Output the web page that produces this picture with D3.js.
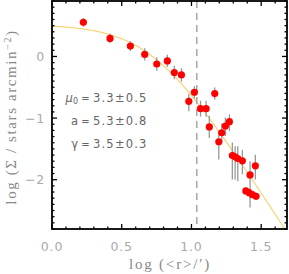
<!DOCTYPE html>
<html><head><meta charset="utf-8">
<script src="https://cdn.jsdelivr.net/npm/d3@7"></script>
<style>body{margin:0;background:#fff}svg{display:block}</style>
</head><body>
<script>
// Data
const logR = [0.225,0.416,0.562,0.665,0.751,0.827,0.877,0.928,0.981,1.021,1.065,1.105,1.167,1.128,1.196,1.217,1.243,1.272,1.293,1.313,1.332,1.365,1.420,1.458,1.390,1.413,1.437,1.463];
const logSigma = [0.554,0.293,0.168,0.033,-0.122,-0.072,-0.261,-0.300,-0.728,-0.581,-0.847,-0.847,-0.603,-1.143,-1.384,-1.238,-1.130,-1.059,-1.607,-1.629,-1.656,-1.694,-1.922,-1.775,-2.182,-2.210,-2.243,-2.270];
const errUp = [0.07,0.08,0.08,0.10,0.11,0.10,0.11,0.11,0.12,0.10,0.13,0.13,0.10,0.18,0.17,0.15,0.14,0.12,0.21,0.17,0.20,0.18,0.22,0.18,0.05,0.05,0.05,0.05];
const errDown = [0.07,0.08,0.08,0.10,0.11,0.10,0.11,0.11,0.16,0.10,0.13,0.13,0.10,0.18,0.29,0.15,0.16,0.15,0.39,0.37,0.37,0.22,0.53,0.22,0.05,0.05,0.05,0.05];
// EFF fit parameters (mu0, a, gamma) with errors
const fitNames = ["μ", "a", "γ"];
const fitValues = [3.3, 5.3, 3.5];
const fitErrors = [0.5, 0.8, 0.3];
const xTicks = [0.0, 0.5, 1.0, 1.5];
const yTicks = [-2, -1, 0];
const rCut = 1.038;

const W = 289, H = 274;
const L = 52, R = 287, T = 1, B = 229;
const svg = d3.select("body").append("svg").attr("width", W).attr("height", H);
const x = d3.scaleLinear().domain([0, 1.685]).range([L, R]);
const y = d3.scaleLinear().domain([-2.8, 0.9]).range([B, T]);

svg.append("defs").append("clipPath").attr("id","clip")
  .append("rect").attr("x",L).attr("y",T).attr("width",R-L).attr("height",B-T);

// fit curve
const [mu0, a, g] = fitValues;
const curveX = d3.range(0, 1.686, 0.005);
svg.append("path").attr("clip-path","url(#clip)")
  .datum(curveX)
  .attr("fill","none").attr("stroke","#f7cf6e").attr("stroke-width",1.1)
  .attr("d", d3.line().x(d => x(d)).y(d => {
    const r = Math.pow(10, d);
    return y(Math.log10(mu0) - g/2*Math.log10(1 + r*r/(a*a)));
  }));

// dashed line
svg.append("line").attr("x1",x(rCut)).attr("x2",x(rCut)).attr("y1",T).attr("y2",B)
  .attr("stroke","#aaa").attr("stroke-width",1.6).attr("stroke-dasharray","7,5");

// error bars
const pts = logR.map((v,i)=>({x:v,y:logSigma[i],u:errUp[i],d:errDown[i]}));
svg.append("g").selectAll("line").data(pts).join("line")
  .attr("x1",d=>x(d.x)).attr("x2",d=>x(d.x))
  .attr("y1",d=>y(d.y+d.u)).attr("y2",d=>y(d.y-d.d))
  .attr("stroke","#999").attr("stroke-width",1.3);
svg.append("g").selectAll("circle").data(pts).join("circle")
  .attr("cx",d=>x(d.x)).attr("cy",d=>y(d.y)).attr("r",3.6).attr("fill","#ff0000");

// frame
svg.append("rect").attr("x",L).attr("y",T).attr("width",R-L).attr("height",B-T)
  .attr("fill","none").attr("stroke","#000").attr("stroke-width",1.8);

// ticks (inward, mirrored)
const tg = svg.append("g").attr("stroke","#000").attr("stroke-width",1.3);
d3.range(0, 1.69, 0.1).forEach(v => {
  const major = Math.abs(v*2 - Math.round(v*2)) < 1e-6;
  const len = major ? 5 : 2.5;
  const px = x(v);
  tg.append("line").attr("x1",px).attr("x2",px).attr("y1",B).attr("y2",B-len);
  tg.append("line").attr("x1",px).attr("x2",px).attr("y1",T).attr("y2",T+len);
});
d3.range(-2.8, 0.91, 0.1).forEach(v => {
  const major = Math.abs(v - Math.round(v)) < 1e-6;
  const len = major ? 5 : 2.5;
  const py = y(v);
  tg.append("line").attr("x1",L).attr("x2",L+len).attr("y1",py).attr("y2",py);
  tg.append("line").attr("x1",R).attr("x2",R-len).attr("y1",py).attr("y2",py);
});

// tick labels
svg.append("g").selectAll("text").data(xTicks).join("text")
  .attr("x",d=>x(d)).attr("y",251).attr("text-anchor","middle")
  .attr("font-family","DejaVu Sans").attr("font-size",12.5).attr("letter-spacing",0.8)
  .attr("fill","#aaa").text(d=>d.toFixed(1));
svg.append("g").selectAll("text").data(yTicks).join("text")
  .attr("x",45).attr("y",d=>y(d)+4.5).attr("text-anchor","end")
  .attr("font-family","DejaVu Sans").attr("font-size",12.5).attr("letter-spacing",0.8)
  .attr("fill","#aaa").text(d=> d<0 ? "\u2212"+Math.abs(d) : String(d));

// axis titles
svg.append("text").attr("x",170).attr("y",269).attr("text-anchor","middle")
  .attr("font-family","Liberation Serif").attr("font-size",15).attr("letter-spacing",1.8)
  .attr("fill","#888").text("log (<r>/\u2032)");
const yl = svg.append("text").attr("transform","translate(16,117) rotate(-90)")
  .attr("text-anchor","middle").attr("font-family","Liberation Serif").attr("font-size",15)
  .attr("letter-spacing",1.6).attr("fill","#888");
yl.append("tspan").text("log (\u03A3 / stars arcmin");
yl.append("tspan").attr("dy",-5).attr("font-size",10).text("\u22122");
yl.append("tspan").attr("dy",5).text(")");

// fit annotation
const rowsY = [102, 125, 148];
fitNames.forEach((n,i) => {
  const t = svg.append("text").attr("x",78).attr("y",rowsY[i]).attr("text-anchor","end")
    .attr("font-family","DejaVu Sans").attr("font-size",11.5).attr("fill","#666");
  if (i === 0) { t.append("tspan").attr("font-style","italic").text(n); t.append("tspan").attr("font-size",8).attr("dy",2).text("0"); }
  else t.text(n);
  svg.append("text").attr("x",85.5).attr("y",rowsY[i]-0.5).attr("text-anchor","middle")
    .attr("font-family","DejaVu Sans").attr("font-size",10).attr("fill","#666").text("=");
  svg.append("text").attr("x",93).attr("y",rowsY[i])
    .attr("font-family","DejaVu Sans").attr("font-size",11.5).attr("letter-spacing",1.2)
    .attr("fill","#666").text(fitValues[i].toFixed(1)+"\u00B1"+fitErrors[i].toFixed(1));
});
</script>
</body></html>
